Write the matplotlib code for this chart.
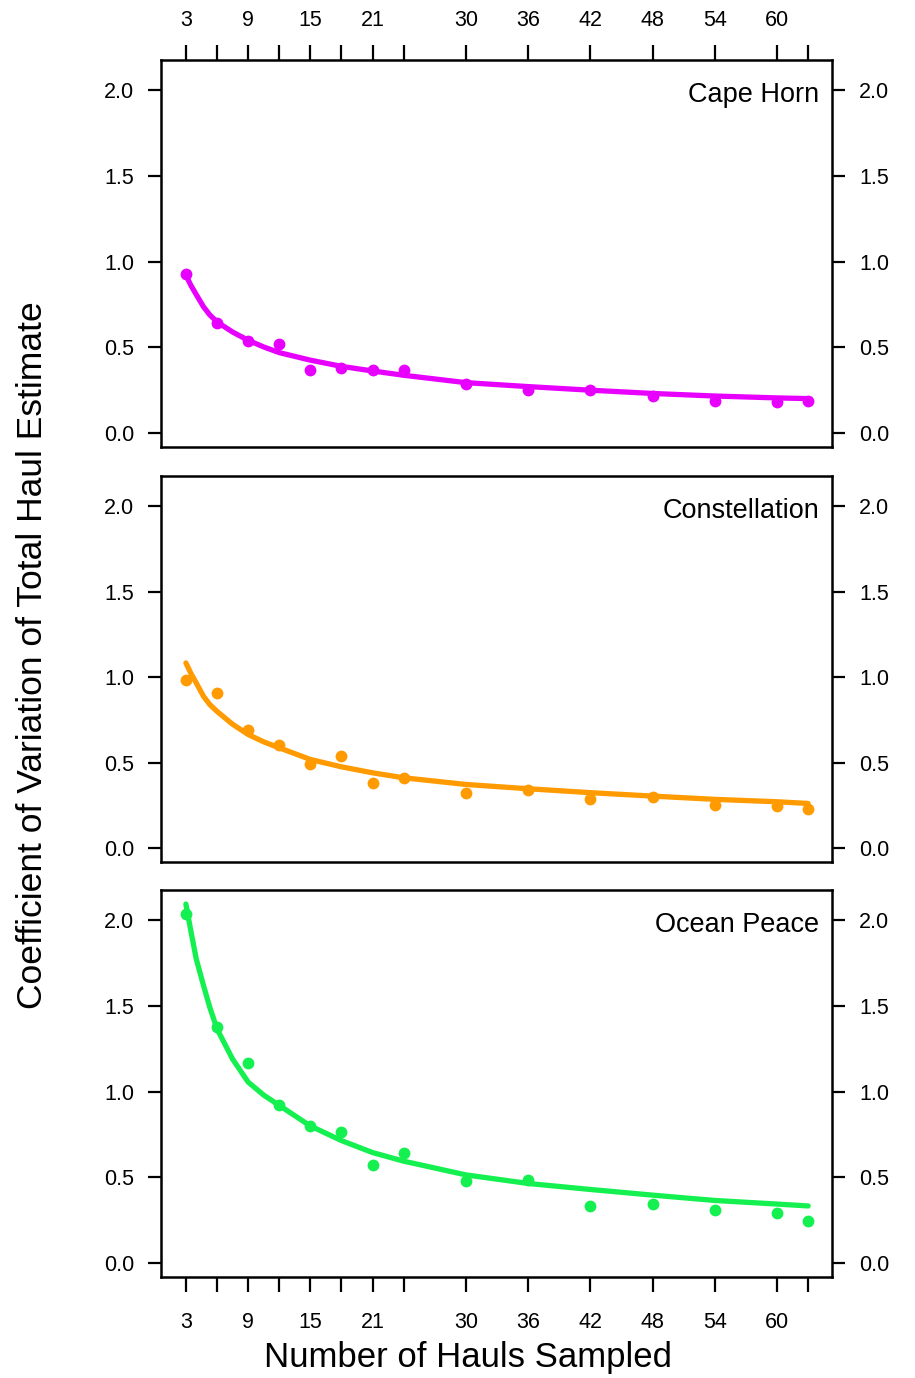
import matplotlib
matplotlib.use('Agg')
import matplotlib.pyplot as plt

plt.rcParams['font.family'] = ['Liberation Sans', 'DejaVu Sans']

# hauls sampled (points) and the tick set
hauls = [3, 6, 9, 12, 15, 18, 21, 24, 30, 36, 42, 48, 54, 60, 63]
tick_pos = [3, 6, 9, 12, 15, 18, 21, 24, 30, 36, 42, 48, 54, 60, 63]
tick_lab = ['3', '', '9', '', '15', '', '21', '', '30', '36', '42', '48', '54', '60', '']

# observed CV per vessel
cape_horn = [0.93, 0.64, 0.54, 0.52, 0.37, 0.38, 0.37, 0.37, 0.29, 0.25, 0.25, 0.22, 0.19, 0.18, 0.19]
constellation = [0.985, 0.905, 0.69, 0.605, 0.49, 0.54, 0.38, 0.41, 0.325, 0.34, 0.29, 0.30, 0.255, 0.245, 0.23]
ocean_peace = [2.035, 1.375, 1.165, 0.925, 0.80, 0.765, 0.57, 0.645, 0.48, 0.485, 0.335, 0.345, 0.31, 0.295, 0.245]

# fitted curves
fit_x = [3, 3.5, 4, 4.7, 5.3, 6, 7.5, 9, 10.5, 12, 15, 18, 21, 24, 30, 36, 42, 48, 54, 60, 63]
cape_horn_fit = [0.921, 0.86, 0.808, 0.737, 0.69, 0.649, 0.59, 0.542, 0.503, 0.47, 0.426, 0.39,
                 0.363, 0.338, 0.295, 0.272, 0.251, 0.232, 0.217, 0.206, 0.202]
constellation_fit = [1.083, 1.02, 0.966, 0.888, 0.84, 0.80, 0.725, 0.665, 0.622, 0.587, 0.519,
                     0.476, 0.441, 0.412, 0.373, 0.348, 0.325, 0.305, 0.286, 0.272, 0.262]
ocean_peace_fit = [2.093, 1.93, 1.773, 1.618, 1.492, 1.366, 1.19, 1.056, 0.98, 0.92, 0.80, 0.715,
                   0.645, 0.595, 0.515, 0.465, 0.43, 0.397, 0.366, 0.345, 0.334]

names = ['Cape Horn', 'Constellation', 'Ocean Peace']
colors = ['#E800FF', '#FF9A00', '#14F050']
points = [cape_horn, constellation, ocean_peace]
fits = [cape_horn_fit, constellation_fit, ocean_peace_fit]

W, H = 915, 1378
fig = plt.figure(figsize=(W / 100, H / 100), dpi=100)

left, right = 161, 832
tops = [60, 476, 890]
bottoms = [447, 862, 1277]

for i in range(3):
    ax = fig.add_axes([left / W, 1 - bottoms[i] / H, (right - left) / W, (bottoms[i] - tops[i]) / H])
    ax.plot(fit_x, fits[i], color=colors[i], lw=3.8, solid_capstyle='round',
            solid_joinstyle='round', zorder=2)
    ax.plot(hauls, points[i], 'o', color=colors[i], ms=8.5, mec='none', zorder=3)

    ax.set_xlim(0.6, 65.3)
    ax.set_ylim(-0.08, 2.175)
    for s in ax.spines.values():
        s.set_linewidth(1.8)

    ax.set_yticks([0, 0.5, 1.0, 1.5, 2.0])
    ax.set_yticklabels(['0.0', '0.5', '1.0', '1.5', '2.0'])
    ax.tick_params(axis='y', left=True, right=True, labelleft=True, labelright=True,
                   direction='out', length=9.5, width=1.6, pad=10, labelsize=15.5)

    ax.set_xticks(tick_pos)
    ax.set_xticklabels(tick_lab)
    if i == 0:
        ax.tick_params(axis='x', top=True, bottom=False, labeltop=True, labelbottom=False,
                       direction='out', length=11, width=1.6, pad=10, labelsize=15.5)
    elif i == 2:
        ax.tick_params(axis='x', top=False, bottom=True, labeltop=False, labelbottom=True,
                       direction='out', length=11, width=1.6, pad=14, labelsize=15.5)
    else:
        ax.tick_params(axis='x', top=False, bottom=False, labeltop=False, labelbottom=False)

    ph = bottoms[i] - tops[i]
    ax.text(0.981, 1 - 42 / ph, names[i], transform=ax.transAxes, ha='right', va='baseline',
            fontsize=19.5)

fig.text(33 / W, 1 - 655 / H, 'Coefficient of Variation of Total Haul Estimate',
         rotation=90, ha='center', va='center', fontsize=25.5)
fig.text(468 / W, 1 - 1358 / H, 'Number of Hauls Sampled', ha='center', va='center',
         fontsize=25)

fig.savefig('out.png', dpi=100)
